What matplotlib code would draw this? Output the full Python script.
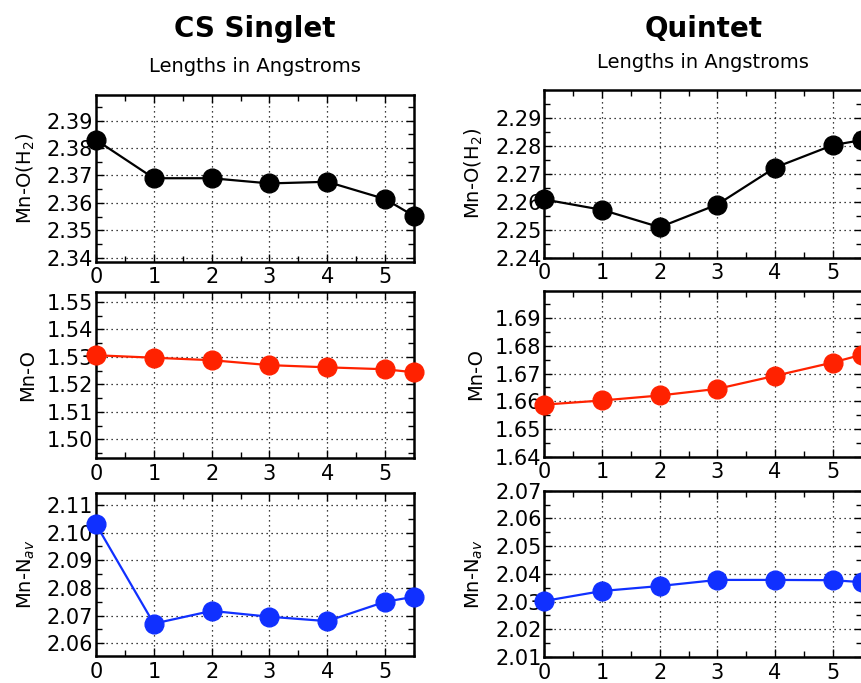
import matplotlib
matplotlib.use("Agg")
import matplotlib.pyplot as plt
from matplotlib.ticker import MultipleLocator, FormatStrFormatter

# step index along the path (last point sits at 5.5)
steps = [0, 1, 2, 3, 4, 5, 5.5]

# CS singlet bond lengths (Angstrom)
singlet_mn_oh2 = [2.3830, 2.3690, 2.3690, 2.3671, 2.3677, 2.3614, 2.3552]
singlet_mn_o = [1.5306, 1.5297, 1.5288, 1.5270, 1.5262, 1.5255, 1.5244]
singlet_mn_nav = [2.1030, 2.0671, 2.0717, 2.0696, 2.0680, 2.0750, 2.0768]

# quintet bond lengths (Angstrom)
quintet_mn_oh2 = [2.2608, 2.2571, 2.2509, 2.2590, 2.2722, 2.2802, 2.2820]
quintet_mn_o = [1.6588, 1.6603, 1.6621, 1.6645, 1.6692, 1.6740, 1.6768]
quintet_mn_nav = [2.0302, 2.0338, 2.0356, 2.0378, 2.0378, 2.0377, 2.0370]

row_labels = [r"Mn-O(H$_2$)", "Mn-O", r"Mn-N$_{av}$"]
row_colors = ["black", "#ff2200", "#1030ff"]

fig = plt.figure(figsize=(8.61, 6.83), dpi=100)

# axes boxes in figure fractions [left, bottom, width, height]
left_boxes = [[0.1115, 0.6168, 0.3693, 0.2441],
              [0.1115, 0.3290, 0.3693, 0.2430],
              [0.1115, 0.0395, 0.3693, 0.2391]]
right_boxes = [[0.6322, 0.6227, 0.3685, 0.2455],
               [0.6322, 0.3313, 0.3685, 0.2430],
               [0.6322, 0.0381, 0.3685, 0.2435]]
left_ylims = [(2.3385, 2.3994), (1.4931, 1.5535), (2.0554, 2.1144)]
# top label of first two quintet panels is not printed in the original
right_ylims = [(2.24, 2.2999), (1.64, 1.6999), (2.01, 2.07)]

columns = [
    (left_boxes, left_ylims, [singlet_mn_oh2, singlet_mn_o, singlet_mn_nav]),
    (right_boxes, right_ylims, [quintet_mn_oh2, quintet_mn_o, quintet_mn_nav]),
]

for boxes, ylims, series in columns:
    for box, ylim, values, label, color in zip(boxes, ylims, series, row_labels, row_colors):
        ax = fig.add_axes(box)
        ax.plot(steps, values, color=color, lw=1.6, marker="o", ms=13.5,
                clip_on=False, zorder=3)
        ax.set_xlim(0, 5.5)
        ax.set_ylim(*ylim)
        ax.xaxis.set_major_locator(MultipleLocator(1))
        ax.xaxis.set_minor_locator(MultipleLocator(0.5))
        ax.yaxis.set_major_locator(MultipleLocator(0.01))
        ax.yaxis.set_minor_locator(MultipleLocator(0.005))
        ax.yaxis.set_major_formatter(FormatStrFormatter("%.2f"))
        ax.tick_params(which="both", direction="in", top=True, right=True,
                       labelsize=15)
        ax.tick_params(axis="y", pad=2)
        ax.tick_params(axis="x", pad=4)
        ax.tick_params(which="major", length=6, width=1)
        ax.tick_params(which="minor", length=4, width=1)
        ax.grid(True, which="major", color="black", linestyle=(0, (1, 3)), lw=0.9)
        for sp in ax.spines.values():
            sp.set_linewidth(1.8)
        ax.set_ylabel(label, fontsize=14, labelpad=7)

fig.text(0.296, 0.958, "CS Singlet", ha="center", va="center",
         fontsize=20, fontweight="bold")
fig.text(0.296, 0.902, "Lengths in Angstroms", ha="center", va="center", fontsize=14)
fig.text(0.817, 0.958, "Quintet", ha="center", va="center",
         fontsize=20, fontweight="bold")
fig.text(0.817, 0.909, "Lengths in Angstroms", ha="center", va="center", fontsize=14)

plt.savefig("out.png", dpi=100)
plt.close()
